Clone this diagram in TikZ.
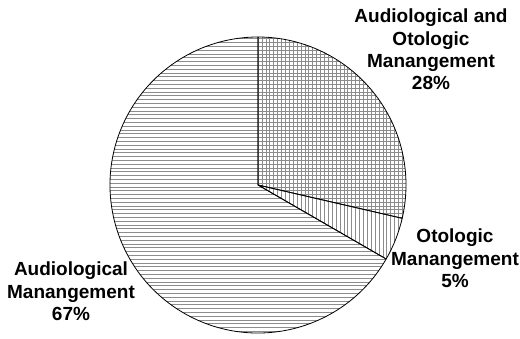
\documentclass[tikz,border=0pt]{standalone}
\usepackage{fontspec}
\setmainfont{Liberation Sans}
\begin{document}
\begin{tikzpicture}[x=1pt,y=1pt,
  hatch/.style={draw=black!45, line width=0.6pt},
  outline/.style={draw=black, line width=0.8pt, line join=round},
  lab/.style={font=\bfseries\fontsize{19}{22.3}\selectfont, align=center, inner sep=0pt, anchor=north}]
\useasboundingbox (0,-339) rectangle (520,0);
\coordinate (c) at (258,-185);
\def\R{148}
% big slice: horizontal lines
\begin{scope}
  \clip (c) -- +(-30:\R) arc[start angle=-30, end angle=-270, radius=\R] -- cycle;
  \foreach \i in {0,...,82} \draw[hatch] (100,{-35-\i*3.8}) -- (420,{-35-\i*3.8});
\end{scope}
% grid slice
\begin{scope}
  \clip (c) -- +(90:\R) arc[start angle=90, end angle=-13, radius=\R] -- cycle;
  \foreach \i in {0,...,82} \draw[hatch] (100,{-35-\i*3.8}) -- (420,{-35-\i*3.8});
  \foreach \i in {0,...,40} \draw[hatch] ({258+\i*3.9},-30) -- ({258+\i*3.9},-340);
\end{scope}
% vertical-line slice
\begin{scope}
  \clip (c) -- +(-13:\R) arc[start angle=-13, end angle=-30, radius=\R] -- cycle;
  \foreach \i in {0,...,40} \draw[hatch] ({258+\i*3.9},-30) -- ({258+\i*3.9},-340);
\end{scope}
% outlines
\draw[outline] (c) -- +(90:\R) arc[start angle=90, end angle=-13, radius=\R] -- cycle;
\draw[outline] (c) -- +(-13:\R) arc[start angle=-13, end angle=-30, radius=\R] -- cycle;
\draw[outline] (c) -- +(-30:\R) arc[start angle=-30, end angle=-270, radius=\R] -- cycle;
% labels
\node[lab] (la) at (431,-9) {Audiological and\\Otologic\\Manangement\\28\%};
\node[lab] (lo) at (455,-229) {Otologic\\Manangement\\5\%};
\node[lab] (lm) at (71,-262) {Audiological\\Manangement\\67\%};
\end{tikzpicture}
\end{document}
